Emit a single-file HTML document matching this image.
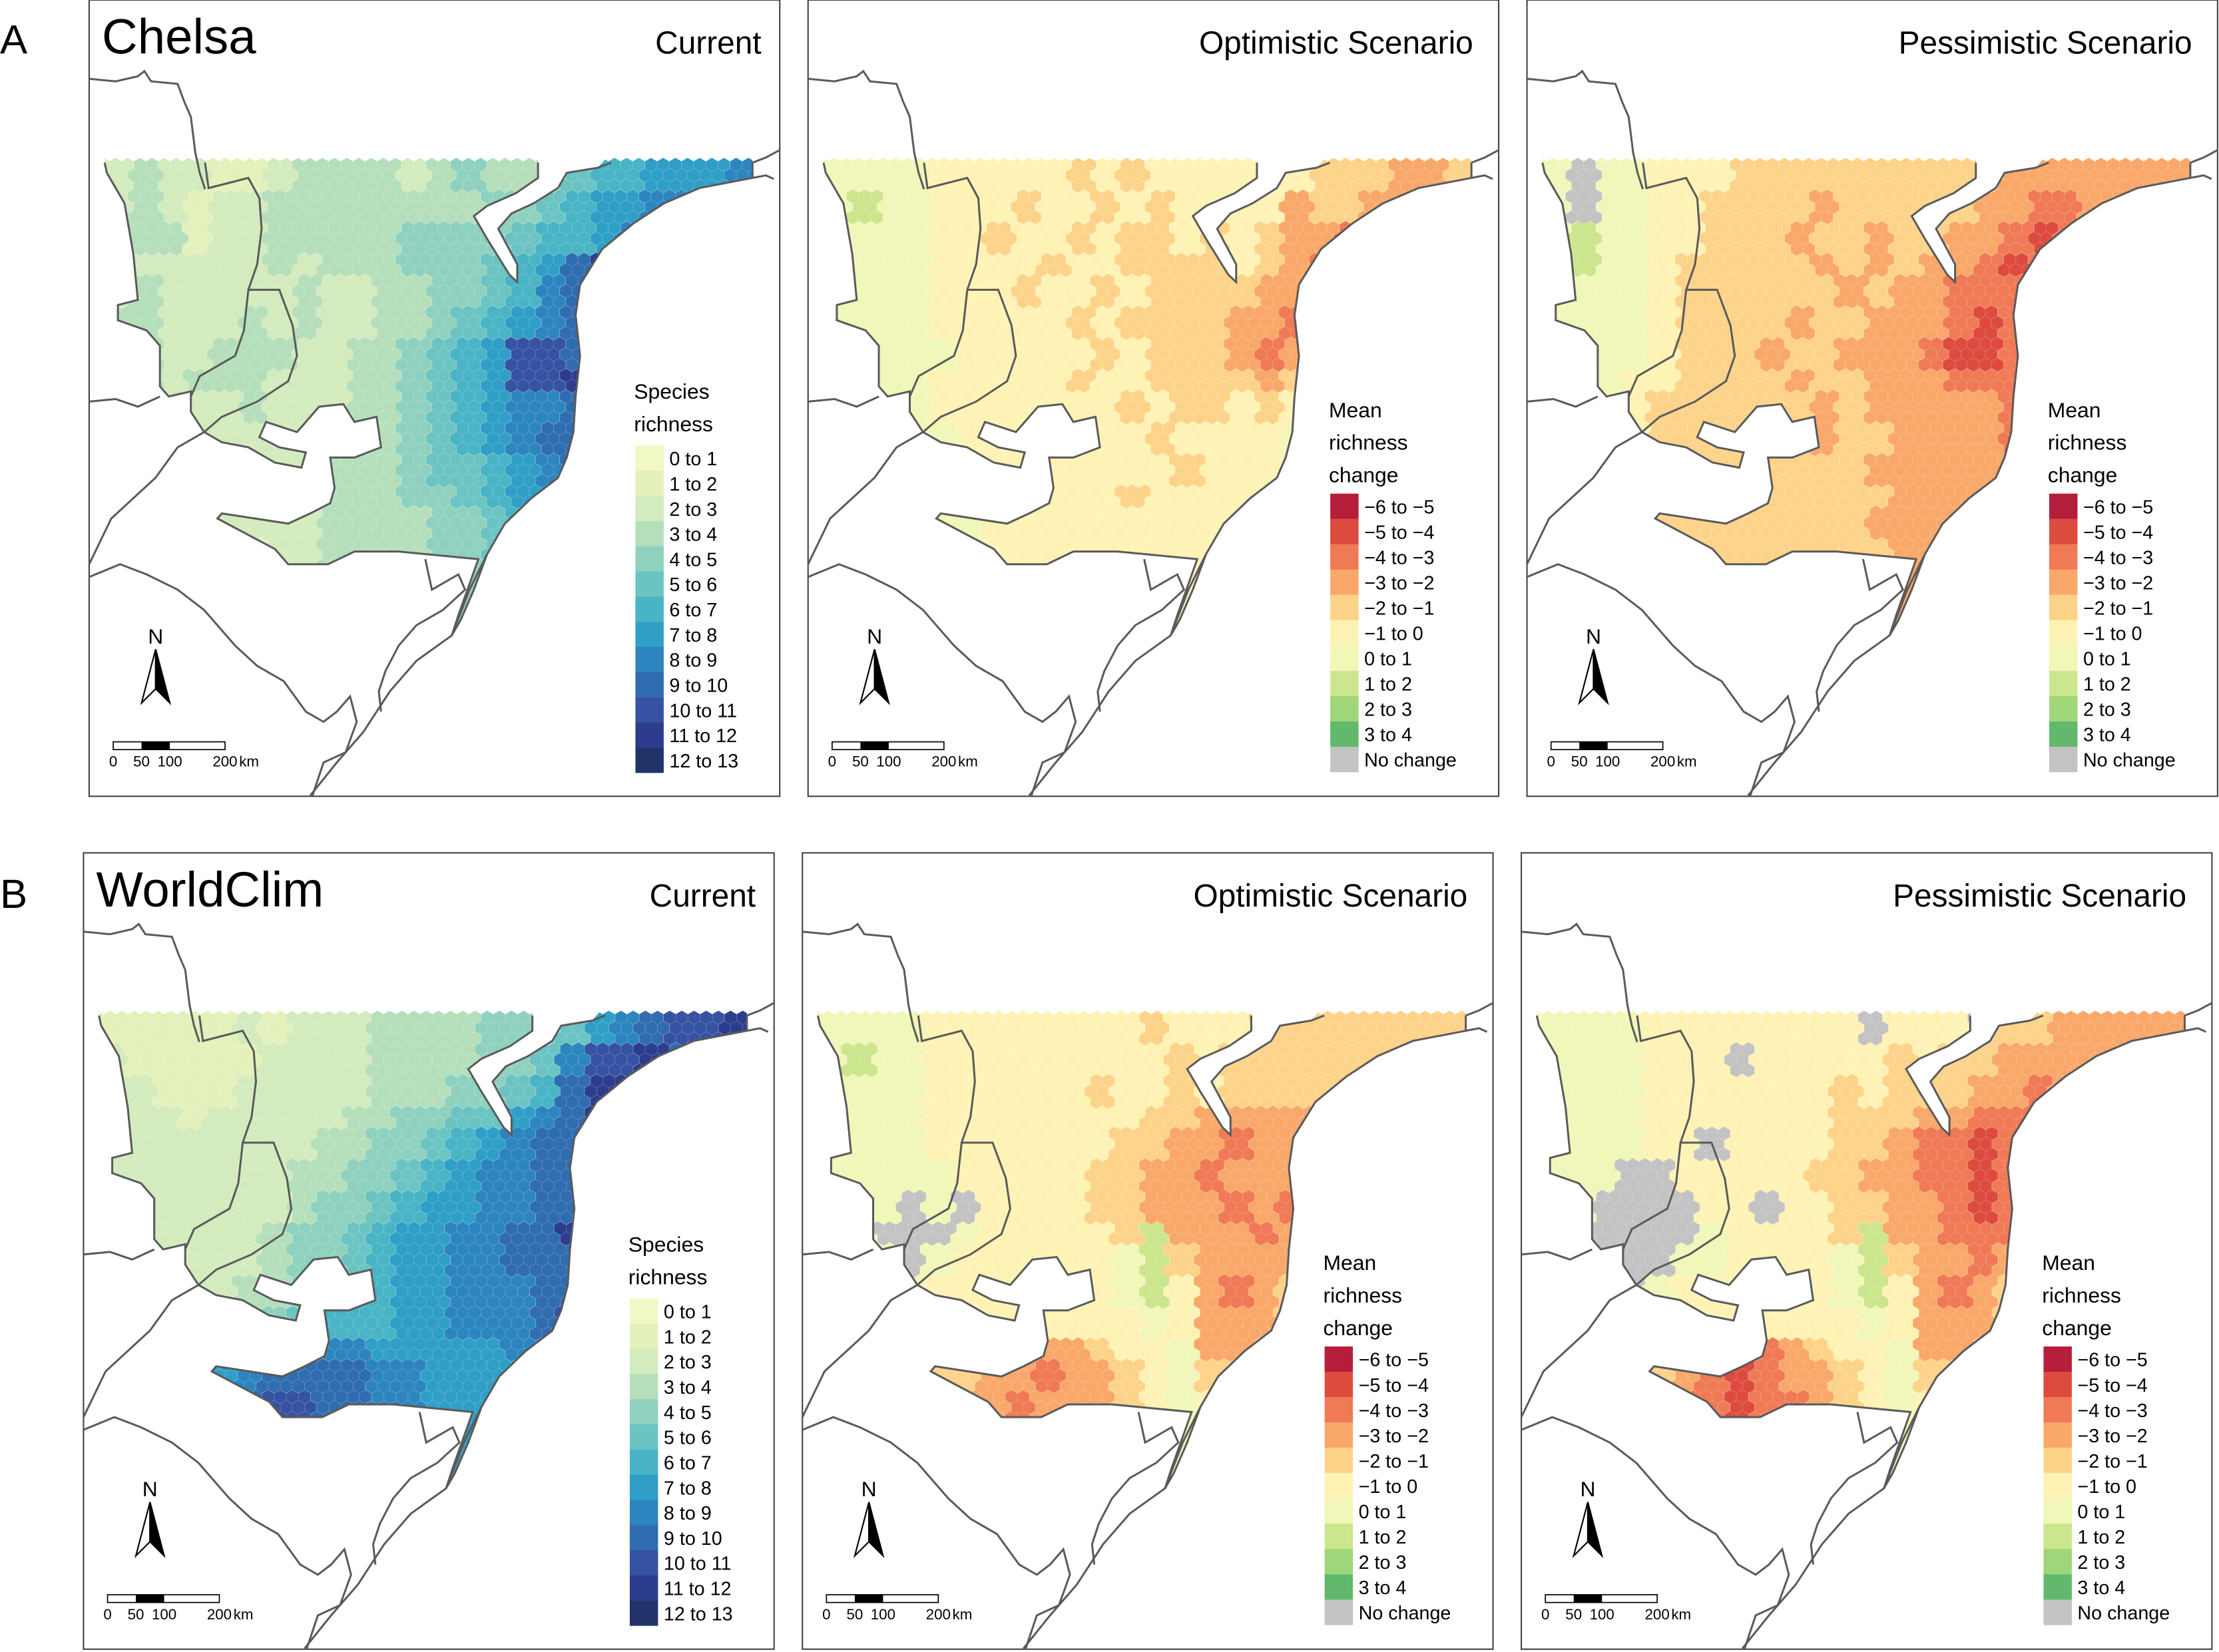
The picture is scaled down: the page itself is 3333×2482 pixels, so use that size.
<!DOCTYPE html>
<html><head><meta charset="utf-8">
<style>
html,body{margin:0;padding:0;background:#fff;}
svg{display:block;font-family:"Liberation Sans",Arial,sans-serif;}
</style></head>
<body>
<svg id="fig" xmlns="http://www.w3.org/2000/svg" width="3333" height="2482" viewBox="0 0 1568 1168" preserveAspectRatio="none">
<defs>
<clipPath id="regionClip"><path id="regionPathClip" transform="scale(0.3125,0.3594)" d=""/></clipPath>
</defs>
<text x="0" y="38" font-size="29">A</text>
<text x="0" y="642" font-size="29">B</text>
<g id="panels"></g>
</svg>
<script>
// ---- data ----
const richnessLabels = ["0 to 1","1 to 2","2 to 3","3 to 4","4 to 5","5 to 6","6 to 7","7 to 8","8 to 9","9 to 10","10 to 11","11 to 12","12 to 13"];
const richnessColors = ["#f1f8c6","#e4f1bb","#d3ebbd","#b5dfbb","#8fd1bf","#6bc4c2","#48b4c6","#2f9fc8","#2c85be","#2f6cb0","#3652a2","#2d3d8e","#22336a"];
const changeLabels = ["\u22126 to \u22125","\u22125 to \u22124","\u22124 to \u22123","\u22123 to \u22122","\u22122 to \u22121","\u22121 to 0","0 to 1","1 to 2","2 to 3","3 to 4","No change"];
const changeColors = ["#b51f3c","#dd4b3f","#f07a55","#f9a86a","#fdd38a","#fef3b5","#f0f7b8","#cbe68c","#a0d67a","#62b96c","#c3c3c3"];
// richness grids: 0-9,a=10,b=11,c=12
const gridChelsaCurrent = [
"232211233332343335667778","232122333333334456778899","333122333334444566789a98","322222323334445679bb9888",
"232222232233445689aa8777","332223232233456789a98777","332233322334567aa9a97777","332333222334567aab987777",
"222223222334567889bba777","322222222334567899bcb777","222222223334556789bba777","222222223334456789ba8777",
"112222223333445689a87777","111111223333445689877777"];
// change grids: A=-6..-5 ... F=-1..0, G=0..1, H,I,J, N=no change
const gridChelsaOptimistic = [
"GGGGFFFFFEFEFFFFFFEEEDDE","GHGGFFFEFFEFEFFFFDEEDDEE","GGGGFFEFFEFEEFEFEDDCDEEE","GGGGFFFFEFFEEEEFEDCDEEEE",
"GGGGFFFEFFEFEEEEDDDEEEEE","GGGGFFFFFEFEEEEDDCDEEEEE","GGGGGFFFFFEFEEEDCDEFEEEE","GGGGFFFFFEFFEEEEDEFEEEEE",
"GGGGFFFFFFFEFEEFEFGFFFFF","GGGGGFFFFFFFEFFFFGHFFFFF","GGGGFFFFFFFFFEFFFGFFFFFF","GGGGGFFFFFFEFFFFFGFFFFFF",
"GGGGGGFFFFFFFFFFFFFFFFFF","GGGGGGFFFFFFFFFFFFFFFFFF"];
const gridChelsaPessimistic = [
"GNGGFFFEEEEEEEEEEDDDDDDD","GNGGFFEEEEDEEEEEDDCCDDDE","GHGGFFEEEDEEDEEDDCBCDEEE","GHGGFEEEEEDEDEDDCBCDDEEE",
"GGGGFEEEEEEDEDDCCCDDDEEE","GGGGFEEEEDEEDDDCBCCDDDDD","GGGGFEEEDEEDDDCBBCDDDDDD","GGGFFEEEEDEEDDDCCCDDDDDD",
"GGFFEEEEEEDEDDDDDCDDDDDD","FFFFEEEEEEDEEDDDDCDDDDDD","FFFFEEEEEEEEDDDDDDDDDDDD","FFFFEEEEEEEEEDDDDDDDDDDD",
"FFFEEEEEEEEEDDDDDDDDDDDD","FFFFEEEEEEEEEDDDDDDDDDDD"];
const gridWorldClimCurrent = [
"111112122233334445789aab","211111222233334458aab999","221112222233344569bba999","222122222334455789bb9999",
"222222223344567899a99999","222222233445678899a99999","222222234456778899aa9999","22222234456778899bab9999",
"222222344567788999ba9999","222223345667788899a99999","22233345666778889a999999","223456788877777889999999",
"345678999988777788999999","456789aa9988777788999999"];
const gridWorldClimOptimistic = [
"GGGGFFFFFFFFEFFFEEEEEEEE","GHGGFFFFFFFFFEFEEEEEEEEE","GGGGFFFFFFEFFEFEEEEEEEEE","GGGGFFFFFFFFEEDDDDDEEEEE",
"GGGGFFFFFFFEEDDCDDDEEEEE","GGGGGFFFFFEEDDCDDDDEEEEE","GGGNGNFFFFEEDDDCDCDEEEEE","GGNNNGFFFFFEHDDDCDDEEEEE",
"GGGNGFFFFFFGHEDDDDDEEEEE","GGGGFFFFFFFGHFDCDEEEEEEE","GGGGFFFFFFFFGFDDDEEEEEEE","GGGFFFEDDDEFFGDDEEEEEEEE",
"GGGFEEDDCDDEFGEEEEEEEEEE","GGGEEDDCDDDEFGFFFFFFFFFF"];
const gridWorldClimPessimistic = [
"GGGGFFFFFFFFNFFFNEEDDDDD","GGGGFFFNFFFFFEFEEDDDDDDE","GGGGFFFFFFFEFEEEDDCDDEEE","GGGGFFFFFFFEEEDDCCCDEEEE",
"GGGGFFNFFFFEEDCCBCDEEEEE","GGGNNFFFFFEEDDCCBCDEEEEE","GGNNNNFFNFFEEDDCBCDDEEEE","GNNNNNGFFFFEHDDCCCDEEEEE",
"GGNNNGGFFFFGHEDDCDDEEEEE","GGGNGFFFFFFGHFDCDEEEEEEE","GGGGFFFFFFFFGFDDDEEEEEEE","GGGFFEDDCDEFFGDDEEEEEEEE",
"GGGFEDCBCDDEFGEEEEEEEEEE","GGGEDCCBCCDEFGFFFFFFFFFF"];
const panelTitles = ["Current","Optimistic Scenario","Pessimistic Scenario","Current","Optimistic Scenario","Pessimistic Scenario"];
const datasetNames = ["Chelsa","WorldClim"];

// ---- geometry (zoom-space outlines) ----
const regionD = "M35,300 L1015,300 L1015,350 L965,380 L900,405 L870,425 L900,470 L950,540 L968,555 L968,520 L925,450 L955,420 L1005,400 L1060,370 L1080,340 L1150,330 L1180,300 L1500,300 L1500,350 L1380,370 L1300,400 L1230,440 L1160,490 L1110,560 L1100,620 L1110,700 L1100,780 L1095,850 L1080,900 L1060,940 L1000,980 L940,1030 L900,1090 L870,1160 L840,1220 L820,1250 L835,1210 L880,1100 L700,1085 L600,1085 L540,1110 L450,1110 L420,1080 L290,1020 L300,1010 L450,1030 L500,1010 L545,990 L555,960 L545,900 L600,900 L660,880 L650,820 L600,830 L575,795 L520,800 L490,830 L470,850 L400,830 L385,860 L430,880 L490,890 L480,920 L420,910 L360,880 L300,870 L260,850 L230,810 L230,770 L180,780 L160,760 L160,680 L130,650 L65,630 L65,600 L110,590 L100,500 L80,400 L40,340 L35,320";
const outlineD = "M1015,320 L1015,350 L965,380 L900,405 L870,425 L900,470 L950,540 L968,555 L968,520 L925,450 L955,420 L1005,400 L1060,370 L1080,340 L1150,330 L1180,320 M1500,320 L1500,350 L1380,370 L1300,400 L1230,440 L1160,490 L1110,560 L1100,620 L1110,700 L1100,780 L1095,850 L1080,900 L1060,940 L1000,980 L940,1030 L900,1090 L870,1160 L840,1220 L820,1250 L835,1210 L880,1100 L700,1085 L600,1085 L540,1110 L450,1110 L420,1080 L290,1020 L300,1010 L450,1030 L500,1010 L545,990 L555,960 L545,900 L600,900 L660,880 L650,820 L600,830 L575,795 L520,800 L490,830 L470,850 L400,830 L385,860 L430,880 L490,890 L480,920 L420,910 L360,880 L300,870 L260,850 L230,810 L230,770 L180,780 L160,760 L160,680 L130,650 L65,630 L65,600 L110,590 L100,500 L80,400 L40,340 L35,320";
const bordersD = [
"M0,155 L60,160 L110,150 L125,140 L140,160 L200,165 L215,200 L230,230 L240,300 L250,340 L262,372",
"M262,320 L270,370 L360,350 L385,390 L390,450 L380,520 L360,570 L350,650 L330,700 L250,740 L230,780",
"M360,570 L430,570 L460,640 L470,700 L450,750 L380,790 L300,820 L260,850",
"M0,790 L60,785 L110,800 L160,780",
"M0,1110 L50,1020 L150,940 L200,880 L260,850",
"M0,1135 L70,1110 L130,1130 L200,1160 L260,1200 L330,1270 L380,1310 L440,1340 L490,1400 L530,1420 L560,1400 L590,1370 L605,1420 L580,1480 L530,1500 L505,1565",
"M900,1090 L860,1160 L820,1250 L740,1300 L680,1360 L620,1440 L560,1500 L500,1565",
"M760,1100 L775,1160 L835,1130 L850,1160 L800,1200 L740,1230 L700,1270 L670,1320 L655,1360 L660,1400",
"M1500,320 L1530,310 L1562,295 M1500,350 L1530,345 L1548,352"
];
document.getElementById('regionPathClip').setAttribute('d', regionD);

const NS = "http://www.w3.org/2000/svg";
function mk(tag, attrs, parent){ const e=document.createElementNS(NS,tag); for(const k in attrs) e.setAttribute(k,attrs[k]); if(parent) parent.appendChild(e); return e; }

const panelPos = [[63,0],[571,0],[1079,0],[59,603],[567,603],[1075,603]];
const grids = [gridChelsaCurrent,gridChelsaOptimistic,gridChelsaPessimistic,gridWorldClimCurrent,gridWorldClimOptimistic,gridWorldClimPessimistic];
const root = document.getElementById('panels');

function richIdx(ch){ return parseInt(ch,16); }
function changeIdx(ch){ return ch==='N'?10:(ch.charCodeAt(0)-65); }

// axis-like mapping functions (grid space -> local px)
const gx0=11, gdx=19.06, gy0=115, gdy=20.5;
function cellCol(lx){ return Math.max(0,Math.min(23,Math.floor((lx-gx0)/gdx))); }
function cellRow(ly){ return Math.max(0,Math.min(13,Math.floor((ly-gy0)/gdy))); }

panelPos.forEach((p,i)=>{
  const isRich = (i%3===0);
  const g = mk('g',{transform:`translate(${p[0]},${p[1]})`},root);
  
  
  const frame = mk('rect',{x:0,y:0,width:488,height:563,fill:'#fff',stroke:'#444','stroke-width':1},g);
  
  
  // hexes
  const hg = mk('g',{'clip-path':'url(#regionClip)'},g);
  
  
  const grid = grids[i];
  const w=8.6, r=w/Math.sqrt(3), dy=1.5*r;
  let pathsByColor = {};
  for(let row=0; row<60; row++){
    const cy = 111.5 + r + row*dy;
    if(cy>460) break;
    const off = (row%2)? w/2:0;
    for(let col=0; col<60; col++){
      const cx = 10 + off + col*w;
      if(cx>480) break;
      const ch = grid[cellRow(cy)][cellCol(cx)];
      const color = isRich ? richnessColors[richIdx(ch)] : changeColors[changeIdx(ch)];
      let d = '';
      for(let k=0;k<6;k++){ const a=Math.PI/180*(60*k-90); d += (k?'L':'M')+(cx+r*Math.cos(a)).toFixed(2)+','+(cy+r*Math.sin(a)).toFixed(2); }
      d+='Z';
      (pathsByColor[color]=pathsByColor[color]||[]).push(d);
    }
  }
  for(const c in pathsByColor){
    const hp = mk('path',{d:pathsByColor[c].join(''),fill:c,stroke:'#ffffff','stroke-opacity':0.25,'stroke-width':0.4},hg);
    
    
  }
  // outlines
  const lg = mk('g',{transform:'scale(0.3125,0.3594)',fill:'none',stroke:'#5a5a5a','stroke-width':3,'vector-effect':'non-scaling-stroke'},g);
  
  
  mk('path',{d:outlineD,'vector-effect':'non-scaling-stroke'},lg);
  bordersD.forEach(d=>mk('path',{d:d,'vector-effect':'non-scaling-stroke'},lg));
  // titles
  if(i%3===0){
    const t = mk('text',{x:9,y:38,'font-size':35},g); t.textContent = datasetNames[i<3?0:1];
    
    
  }
  const st = mk('text',{x:(i%3===0?475:470),y:38,'font-size':22.5,'text-anchor':'end'},g); st.textContent = panelTitles[i];
  
  
  // legend
  const leg = mk('g',{},g);
  
  
  if(isRich){
    const lx=385;
    ['Species','richness'].forEach((s,k)=>{ const t=mk('text',{x:lx,y:282+k*23,'font-size':15},leg); t.textContent=s; });
    richnessLabels.forEach((lab,k)=>{
      const y=315+k*17.8;
      const rc=mk('rect',{x:lx+1,y:y,width:20,height:17.9,fill:richnessColors[k]},leg);
      
      
      const t=mk('text',{x:lx+25,y:y+14,'font-size':13.5},leg); t.textContent=lab;
      
      
    });
  } else {
    const lx=368;
    ['Mean','richness','change'].forEach((s,k)=>{ const t=mk('text',{x:lx,y:295+k*23,'font-size':15},leg); t.textContent=s; });
    changeLabels.forEach((lab,k)=>{
      const y=349+k*17.9;
      const rc=mk('rect',{x:lx+1,y:y,width:20,height:18,fill:changeColors[k]},leg);
      
      
      const t=mk('text',{x:lx+25,y:y+14,'font-size':13.5},leg); t.textContent=lab;
      
      
    });
  }
  // north arrow
  const na = mk('g',{},g);
  
  
  const nt=mk('text',{x:47,y:455,'font-size':15,'text-anchor':'middle'},na); nt.textContent='N';
  mk('polygon',{points:'47,459 37,497 47,487',fill:'#fff',stroke:'#000','stroke-width':1},na);
  mk('polygon',{points:'47,459 47,487 57,497',fill:'#000',stroke:'#000','stroke-width':1},na);
  // scale bar
  const sb = mk('g',{},g);
  
  
  mk('rect',{x:17,y:524.5,width:79,height:5.5,fill:'#fff',stroke:'#000','stroke-width':0.8},sb);
  mk('rect',{x:37,y:524.5,width:20,height:5.5,fill:'#000'},sb);
  [['0',17],['50',37],['100',57],['200',96]].forEach(a=>{ const t=mk('text',{x:a[1],y:542,'font-size':10.5,'text-anchor':'middle'},sb); t.textContent=a[0]; });
  const km=mk('text',{x:106,y:542,'font-size':10.5},sb); km.textContent='km';
});
</script>
</body></html>
